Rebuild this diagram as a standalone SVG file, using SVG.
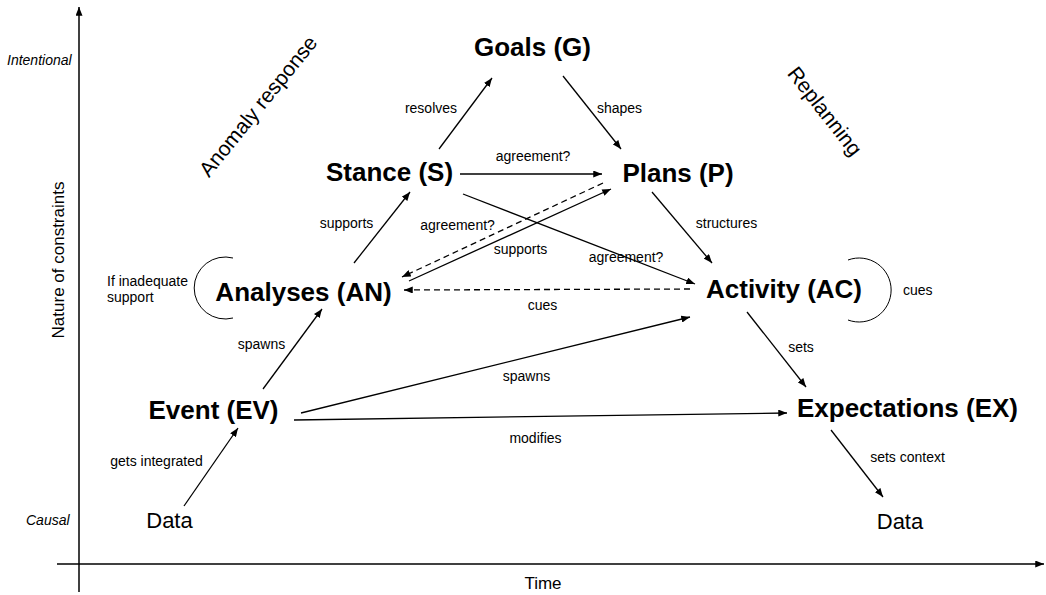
<svg xmlns="http://www.w3.org/2000/svg" width="1046" height="595" viewBox="0 0 1046 595">
<defs>
<marker id="ah" viewBox="0 0 10 8" refX="10" refY="4" markerWidth="9" markerHeight="7" markerUnits="userSpaceOnUse" orient="auto">
<path d="M0,0 L10,4 L0,8 z" fill="#000"/>
</marker>
<style>
text{font-family:"Liberation Sans",Arial,sans-serif;fill:#000}
.node{font-size:26px;font-weight:bold;text-anchor:middle}
.data{font-size:22px;text-anchor:middle}
.lbl{font-size:14px;text-anchor:middle}
.lbls{font-size:14px}
.ax{font-size:14px;font-style:italic}
.big{font-size:17px;text-anchor:middle}
.diag{font-size:21px;text-anchor:middle}
.c{stroke:#000;stroke-width:1.3;fill:none}
.e{marker-end:url(#ah)}
.d{stroke-dasharray:6,4}
.axis{stroke:#000;stroke-width:1.5;fill:none;marker-end:url(#ah)}
.arc{stroke:#000;stroke-width:1;fill:none}
</style>
</defs>
<rect width="1046" height="595" fill="#fff"/>
<g id="axes">
<path class="axis" d="M79,592 L79,7"/>
<path class="axis" d="M57,564 L1044,564"/>
<text class="ax" x="7" y="65">Intentional</text>
<text class="ax" x="26" y="525">Causal</text>
<text class="big" transform="translate(64,260) rotate(-90)">Nature of constraints</text>
<text class="big" x="543" y="589">Time</text>
<text class="diag" transform="translate(258,106) rotate(-51)" dy="0.35em">Anomaly response</text>
<text class="diag" transform="translate(825,111) rotate(52)" dy="0.35em">Replanning</text>
</g>
<g id="connectors">
<path class="c e" d="M439,149 L492,78"/>
<path class="c e" d="M563,76 L621,149"/>
<path class="c e" d="M460,174 L602,174"/>
<path class="c e" d="M354,263 L410,192"/>
<path class="c e" d="M463,194 L695,284"/>
<path class="c e d" d="M603,183 L402,277"/>
<path class="c e" d="M409,281 L611,189"/>
<path class="c e d" d="M690,289 L404,290"/>
<path class="c e" d="M652,192 L712,263"/>
<path class="c e" d="M747,312 L806,387"/>
<path class="c e" d="M831,430 L883,497"/>
<path class="c e" d="M263,389 L322,309"/>
<path class="c e" d="M184,506 L238,428"/>
<path class="c e" d="M301,413 L690,317"/>
<path class="c e" d="M294,420 L787,413"/>
<path class="arc" d="M233,258 A31,31 0 1 0 233,318"/>
<path class="arc" d="M848,260 A32,32 0 1 1 848,320"/>
<text class="lbl" x="431" y="113">resolves</text>
<text class="lbl" x="619.5" y="113">shapes</text>
<text class="lbl" x="533" y="161">agreement?</text>
<text class="lbl" x="346.5" y="228">supports</text>
<text class="lbl" x="457.5" y="230">agreement?</text>
<text class="lbl" x="520.5" y="254">supports</text>
<text class="lbl" x="626" y="262">agreement?</text>
<text class="lbl" x="726.5" y="228">structures</text>
<text class="lbls" x="107" y="286">If inadequate</text>
<text class="lbls" x="107" y="302">support</text>
<text class="lbl" x="542.5" y="310">cues</text>
<text class="lbls" x="903" y="295">cues</text>
<text class="lbl" x="261.5" y="349">spawns</text>
<text class="lbl" x="526.5" y="381">spawns</text>
<text class="lbl" x="535.5" y="443">modifies</text>
<text class="lbl" x="801" y="352">sets</text>
<text class="lbl" x="907.5" y="462">sets context</text>
<text class="lbl" x="156.5" y="466">gets integrated</text>
</g>
<g id="node-goals"><text class="node" x="532.5" y="56">Goals (G)</text></g>
<g id="node-stance"><text class="node" x="389.5" y="181">Stance (S)</text></g>
<g id="node-plans"><text class="node" x="678" y="182">Plans (P)</text></g>
<g id="node-analyses"><text class="node" x="303.5" y="301">Analyses (AN)</text></g>
<g id="node-activity"><text class="node" x="784" y="298">Activity (AC)</text></g>
<g id="node-event"><text class="node" x="213.5" y="419">Event (EV)</text></g>
<g id="node-expectations"><text class="node" x="907.5" y="417">Expectations (EX)</text></g>
<g id="node-data-in"><text class="data" x="169.5" y="528">Data</text></g>
<g id="node-data-out"><text class="data" x="900" y="529">Data</text></g>
</svg>
